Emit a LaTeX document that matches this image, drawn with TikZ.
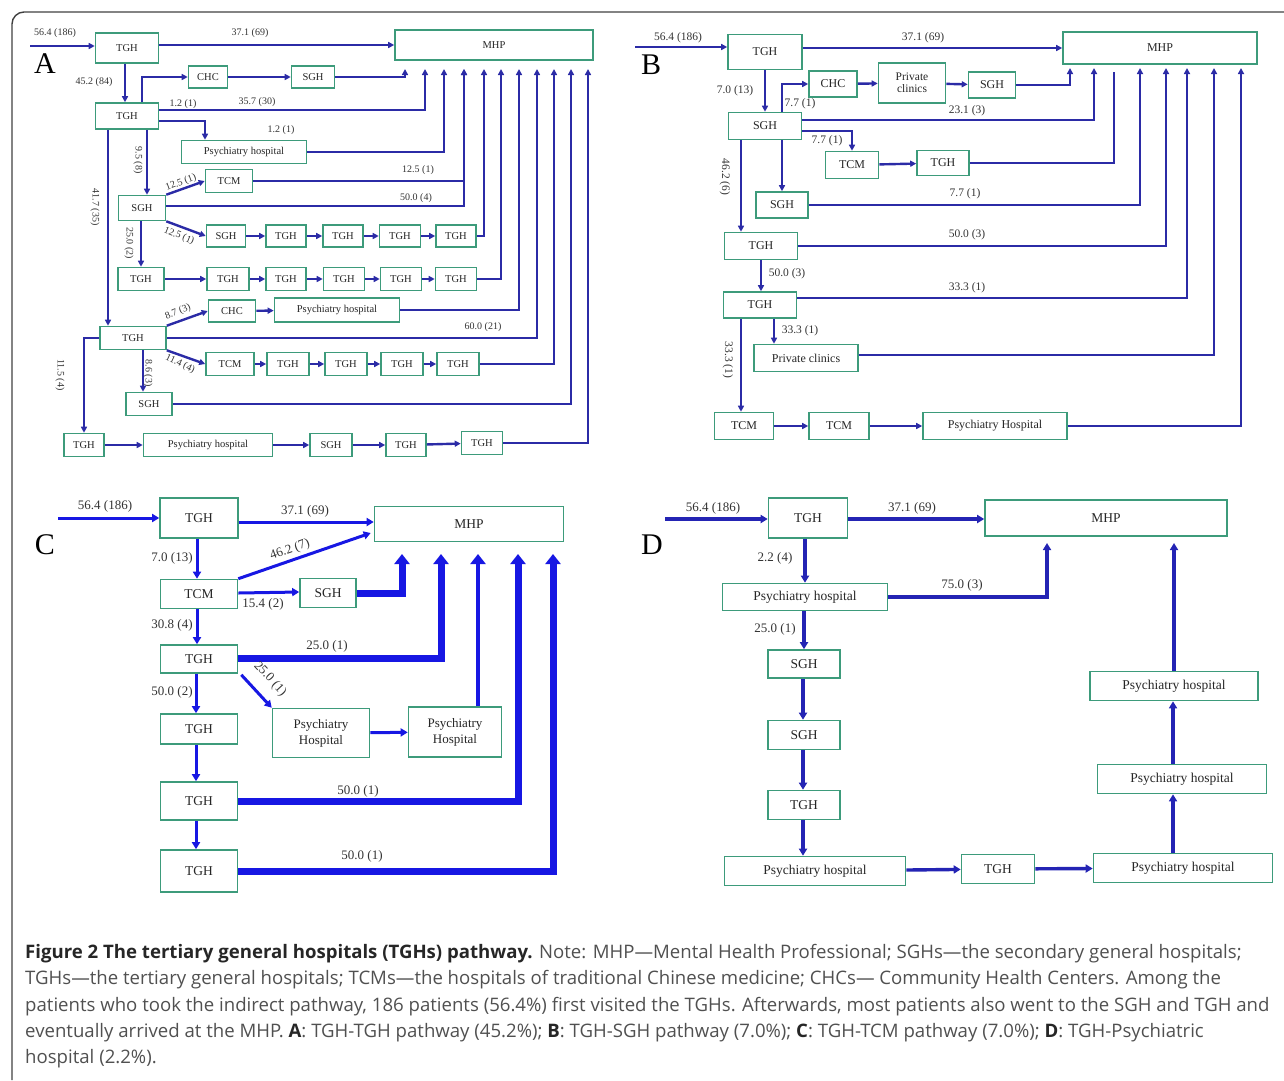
\documentclass[tikz,border=0pt]{standalone}
\usepackage{fontspec}
\setmainfont{Liberation Serif}
\newfontfamily\capfont{Open Sans}
\usepackage{xcolor}
\usetikzlibrary{arrows.meta}

\definecolor{boxgreen}{HTML}{3D9B7B}
\definecolor{lineA}{HTML}{2B2BA6}
\definecolor{lineC}{HTML}{1717E3}
\definecolor{lineD}{HTML}{2424B4}
\definecolor{capgray}{HTML}{505050}

\tikzset{
  hosp/.style={rectangle, draw=boxgreen, line width=1.6pt, fill=white, inner sep=1pt, align=center, text=black!85},
  boxA/.style={hosp, font=\fontsize{10.5}{12}\selectfont, minimum height=23pt},
  boxB/.style={hosp, font=\fontsize{12}{13}\selectfont, minimum height=26pt},
  boxC/.style={hosp, font=\fontsize{13.5}{15}\selectfont, minimum height=29pt},
  numA/.style={font=\fontsize{10}{11}\selectfont, text=black!80, inner sep=0pt},
  numB/.style={font=\fontsize{11.5}{12}\selectfont, text=black!80, inner sep=0pt},
  numC/.style={font=\fontsize{13}{14}\selectfont, text=black!80, inner sep=0pt},
  panel/.style={font=\fontsize{30}{30}\selectfont, inner sep=0pt},
  linkA/.style={draw=lineA, line width=2.4pt},
  linkC/.style={draw=lineC, line width=3pt},
  fatC/.style={draw=lineC, line width=7pt},
  linkD/.style={draw=lineD, line width=3.4pt},
  tipA/.style={-{Triangle[length=6pt,width=6pt]}},
  tipC/.style={-{Triangle[length=7pt,width=8pt]}},
  fattip/.style={-{Triangle[length=10pt,width=15pt]}},
  frame/.style={draw=black!75, line width=1.4pt}
}

\begin{document}
\begin{tikzpicture}[x=1pt, y=-1pt]
  \useasboundingbox (0,0) rectangle (1284,1080);
  \draw[frame, rounded corners=12pt] (1284,12) -| (12,1080);

  % ---------------- A: TGH-TGH
  \node[panel] (capA) at (45,64) {A};
  \coordinate (startA) at (30,46);
  \foreach \i/\x in {1/405, 2/425, 3/444, 4/464, 5/484, 6/501, 7/519, 8/537, 9/554, 10/571, 11/588}
    \coordinate (inA\i) at (\x,69);

  \node[boxA, minimum width=63pt, minimum height=30pt] (a1) at (127,48) {TGH};
  \node[boxA, minimum width=198pt, minimum height=30pt] (mhpA) at (494,45) {MHP};
  \node[boxA, minimum width=63pt, minimum height=26pt] (a2) at (127,116) {TGH};
  \node[boxA, minimum width=39pt, minimum height=22pt] (chcA) at (208,77) {CHC};
  \node[boxA, minimum width=43pt, minimum height=22pt] (sghA) at (313,77) {SGH};
  \node[boxA, minimum width=125pt] (phA1) at (244,152) {Psychiatry hospital};
  \node[boxA, minimum width=47pt, minimum height=25pt] (sA) at (142,208) {SGH};
  \node[boxA, minimum width=47pt] (tcmA1) at (229,181) {TCM};

  \node[boxA, minimum width=39pt, minimum height=22pt] (r1a) at (226,236) {SGH};
  \node[boxA, minimum width=40pt, minimum height=22pt] (r1b) at (286,236) {TGH};
  \node[boxA, minimum width=40pt, minimum height=22pt] (r1c) at (343,236) {TGH};
  \node[boxA, minimum width=41pt, minimum height=22pt] (r1d) at (400,236) {TGH};
  \node[boxA, minimum width=40pt, minimum height=22pt] (r1e) at (456,236) {TGH};

  \node[boxA, minimum width=46pt] (r2a) at (141,279) {TGH};
  \node[boxA, minimum width=42pt] (r2b) at (228,279) {TGH};
  \node[boxA, minimum width=40pt] (r2c) at (286,279) {TGH};
  \node[boxA, minimum width=41pt] (r2d) at (344,279) {TGH};
  \node[boxA, minimum width=41pt] (r2e) at (401,279) {TGH};
  \node[boxA, minimum width=41pt] (r2f) at (456,279) {TGH};

  \node[boxA, minimum width=66pt] (a3) at (133,338) {TGH};
  \node[boxA, minimum width=47pt, minimum height=22pt] (chcA2) at (232,311) {CHC};
  \node[boxA, minimum width=125pt, minimum height=24pt] (phA2) at (337,310) {Psychiatry hospital};

  \node[boxA, minimum width=48pt] (r3a) at (230,364) {TCM};
  \node[boxA, minimum width=42pt] (r3b) at (288,364) {TGH};
  \node[boxA, minimum width=42pt] (r3c) at (346,364) {TGH};
  \node[boxA, minimum width=42pt] (r3d) at (402,364) {TGH};
  \node[boxA, minimum width=42pt] (r3e) at (458,364) {TGH};

  \node[boxA, minimum width=46pt] (sA2) at (149,404) {SGH};

  \node[boxA, minimum width=40pt] (a4) at (84,445) {TGH};
  \node[boxA, minimum width=129pt] (r4b) at (208,445) {Psychiatry hospital};
  \node[boxA, minimum width=42pt] (r4c) at (331,445) {SGH};
  \node[boxA, minimum width=40pt] (r4d) at (406,445) {TGH};
  \node[boxA, minimum width=41pt] (r4e) at (482,443) {TGH};

  \path ([xshift=-19pt]a2.south) coordinate (a2l)
        ([xshift=10pt]a3.south) coordinate (a3r);

  \draw[linkA, tipA] (startA) -- (a1.west |- startA);
  \draw[linkA, tipA] (a1.east |- mhpA.west) -- (mhpA.west);
  \draw[linkA, tipA] ([xshift=-2pt]a1.south) -- ([xshift=-2pt]a2.north);
  \draw[linkA, tipA] ([xshift=15pt]a2.north) |- (chcA.west);
  \draw[linkA, tipA] (chcA) -- (sghA);
  \draw[linkA, tipA] (sghA.east) -| (inA1);
  \draw[linkA, tipA] ([yshift=6pt]a2.east) -| (inA2);
  \draw[linkA, tipA] ([yshift=-5pt]a2.east) -| ([xshift=-39pt]phA1.north);
  \draw[linkA, tipA] (phA1.east) -| (inA3);
  \draw[linkA, tipA] ([xshift=20pt]a2.south) -- ([xshift=5pt]sA.north);
  \draw[linkA, tipA] (sA.north east) -- (tcmA1.west);
  \draw[linkA, tipA] (tcmA1.east) -| (inA4);
  \draw[linkA, tipA] ([yshift=2pt]sA.east) -| (inA4);
  \draw[linkA, tipA] (sA.south east) -- (r1a.west);
  \draw[linkA, tipA] (sA.south -| r2a.north) -- (r2a.north);
  \draw[linkA, tipA] (a2l) -- (a2l |- a3.north);
  \draw[linkA, tipA] (a3.north east) -- (chcA2.west);
  \draw[linkA, tipA] (chcA2) -- (phA2);
  \draw[linkA, tipA] (phA2.east) -| (inA7);
  \draw[linkA, tipA] (a3.east) -| (inA8);
  \draw[linkA, tipA] (a3.south east) -- (r3a.west);
  \draw[linkA, tipA] (a3r) -- (a3r |- sA2.north);
  \draw[linkA, tipA] (sA2.east) -| (inA10);
  \draw[linkA, tipA] (a3.west) -| (a4.north);
  \foreach \p/\q in {r1a/r1b, r1b/r1c, r1c/r1d, r1d/r1e,
                     r2a/r2b, r2b/r2c, r2c/r2d, r2d/r2e, r2e/r2f,
                     r3a/r3b, r3b/r3c, r3c/r3d, r3d/r3e,
                     a4/r4b, r4b/r4c, r4c/r4d, r4d/r4e}
    \draw[linkA, tipA] (\p) -- (\q);
  \draw[linkA, tipA] (r1e.east) -| (inA5);
  \draw[linkA, tipA] (r2f.east) -| (inA6);
  \draw[linkA, tipA] (r3e.east) -| (inA9);
  \draw[linkA, tipA] (r4e.east) -| (inA11);

  \node[numA] (lA1) at (55,33) {56.4 (186)};
  \node[numA] (lA2) at (250,33) {37.1 (69)};
  \node[numA] (lA3) at (94,82) {45.2 (84)};
  \node[numA] (lA4) at (183,104) {1.2 (1)};
  \node[numA] (lA5) at (257,102) {35.7 (30)};
  \node[numA] (lA6) at (281,130) {1.2 (1)};
  \node[numA, rotate=-90] (lA7) at (138,160) {9.5 (8)};
  \node[numA, rotate=-90] (lA8) at (95,207) {41.7 (35)};
  \node[numA, rotate=20] (lA9) at (181,183) {12.5 (1)};
  \node[numA] (lA10) at (418,170) {12.5 (1)};
  \node[numA] (lA11) at (416,198) {50.0 (4)};
  \node[numA, rotate=-22] (lA12) at (179,236) {12.5 (1)};
  \node[numA, rotate=-90] (lA13) at (129,243) {25.0 (2)};
  \node[numA, rotate=22] (lA14) at (178,312) {8.7 (3)};
  \node[numA] (lA15) at (483,327) {60.0 (21)};
  \node[numA, rotate=-25] (lA16) at (180,364) {11.4 (4)};
  \node[numA, rotate=-90] (lA17) at (148,373) {8.6 (3)};
  \node[numA, rotate=-90] (lA18) at (60,375) {11.5 (4)};

  % ---------------- B: TGH-SGH
  \node[panel] (capB) at (651,65) {B};
  \coordinate (startB) at (635,47);
  \foreach \i/\x in {1/1070, 2/1094, 3/1114, 4/1140, 5/1166, 6/1187, 7/1214, 8/1241}
    \coordinate (inB\i) at (\x,68);

  \node[boxB, minimum width=74pt, minimum height=35pt] (b1) at (765,52) {TGH};
  \node[boxB, minimum width=194pt, minimum height=32pt] (mhpB) at (1160,48) {MHP};
  \node[boxB, minimum width=73pt, minimum height=27pt] (b2) at (765,126) {SGH};
  \node[boxB, minimum width=48pt] (chcB) at (833,84) {CHC};
  \node[boxB, minimum width=67pt, minimum height=40pt, font=\fontsize{11.5}{12}\selectfont] (pcB) at (912,83) {Private\\clinics};
  \node[boxB, minimum width=47pt] (sghB) at (992,85) {SGH};
  \node[boxB, minimum width=53pt, minimum height=27pt] (tcmB) at (852,165) {TCM};
  \node[boxB, minimum width=52pt, minimum height=25pt] (tghB) at (943,163) {TGH};
  \node[boxB, minimum width=52pt] (sB2) at (782,205) {SGH};
  \node[boxB, minimum width=73pt, minimum height=27pt] (b3) at (761,246) {TGH};
  \node[boxB, minimum width=73pt] (b4) at (760,305) {TGH};
  \node[boxB, minimum width=104pt, minimum height=27pt] (pcB2) at (806,358) {Private clinics};
  \node[boxB, minimum width=59pt, minimum height=27pt] (tcmB2) at (744,426) {TCM};
  \node[boxB, minimum width=60pt, minimum height=27pt] (tcmB3) at (839,426) {TCM};
  \node[boxB, minimum width=144pt, minimum height=27pt] (phB) at (995,426) {Psychiatry Hospital};

  \path ([xshift=17pt]b2.north) coordinate (b2n)
        ([xshift=17pt]b2.south) coordinate (b2s)
        ([xshift=-24pt]b2.south) coordinate (b2l)
        ([xshift=14pt]b4.south) coordinate (b4r)
        ([xshift=-19pt]b4.south) coordinate (b4l);

  \draw[linkA, tipA] (startB) -- (b1.west |- startB);
  \draw[linkA, tipA] (b1.east |- mhpB.west) -- (mhpB.west);
  \draw[linkA, tipA] (b1.south) -- (b2.north);
  \draw[linkA, tipA] (b2n) |- (chcB.west);
  \draw[linkA, tipA] (chcB) -- (pcB);
  \draw[linkA, tipA] (pcB) -- (sghB);
  \draw[linkA, tipA] (sghB.east) -| (inB1);
  \draw[linkA, tipA] ([yshift=6pt]b2.east) -| (inB2);
  \draw[linkA, tipA] ([yshift=-5pt]b2.east) -| (tcmB.north);
  \draw[linkA, tipA] (tcmB) -- (tghB);
  \draw[linkA] (tghB.east) -| ([yshift=-4pt]inB3);
  \draw[linkA, tipA] (b2s) -- (b2s |- sB2.north);
  \draw[linkA, tipA] (sB2.east) -| (inB4);
  \draw[linkA, tipA] (b2l) -- (b2l |- b3.north);
  \draw[linkA, tipA] (b3.east) -| (inB5);
  \draw[linkA, tipA] (b3.south) -- (b3.south |- b4.north);
  \draw[linkA, tipA] ([yshift=7pt]b4.east) -| (inB6);
  \draw[linkA, tipA] (b4r) -- (b4r |- pcB2.north);
  \draw[linkA, tipA] ([yshift=3pt]pcB2.east) -| (inB7);
  \draw[linkA, tipA] (b4l) -- (b4l |- tcmB2.north);
  \draw[linkA, tipA] (tcmB2) -- (tcmB3);
  \draw[linkA, tipA] (tcmB3) -- (phB);
  \draw[linkA, tipA] (phB.east) -| (inB8);

  \node[numB] (lB1) at (678,38) {56.4 (186)};
  \node[numB] (lB2) at (923,38) {37.1 (69)};
  \node[numB] (lB3) at (735,91) {7.0 (13)};
  \node[numB] (lB4) at (800,104) {7.7 (1)};
  \node[numB] (lB5) at (967,111) {23.1 (3)};
  \node[numB] (lB6) at (827,141) {7.7 (1)};
  \node[numB] (lB7) at (965,194) {7.7 (1)};
  \node[numB, rotate=-90] (lB8) at (725,177) {46.2 (6)};
  \node[numB] (lB9) at (967,235) {50.0 (3)};
  \node[numB] (lB10) at (787,274) {50.0 (3)};
  \node[numB] (lB11) at (967,288) {33.3 (1)};
  \node[numB] (lB12) at (800,331) {33.3 (1)};
  \node[numB, rotate=-90] (lB13) at (728,360) {33.3 (1)};

  % ---------------- C: TGH-TCM
  \node[panel] (capC) at (45,545) {C};
  \coordinate (startC) at (58,518);
  \foreach \i/\x in {1/402, 2/441, 3/478, 4/518, 5/553}
    \coordinate (inC\i) at (\x,554);

  \node[boxC, minimum width=78pt, minimum height=40pt] (c1) at (199,518) {TGH};
  \node[boxC, minimum width=189pt, minimum height=35pt] (mhpC) at (469,524) {MHP};
  \node[boxC, minimum width=77pt] (c2) at (199,594) {TCM};
  \node[boxC, minimum width=56pt] (sC) at (328,593) {SGH};
  \node[boxC, minimum width=77pt, minimum height=28pt] (c3) at (199,659) {TGH};
  \node[boxC, minimum width=97pt, minimum height=49pt, font=\fontsize{13}{16}\selectfont] (phC1) at (321,733) {Psychiatry\\Hospital};
  \node[boxC, minimum width=93pt, minimum height=50pt, font=\fontsize{13}{16}\selectfont] (phC2) at (455,732) {Psychiatry\\Hospital};
  \node[boxC, minimum width=77pt, minimum height=30pt] (c4) at (199,729) {TGH};
  \node[boxC, minimum width=77pt, minimum height=38pt] (c5) at (199,801) {TGH};
  \node[boxC, minimum width=77pt, minimum height=42pt] (c6) at (199,871) {TGH};

  \draw[linkC, tipC] (startC) -- (c1.west);
  \draw[linkC, tipC] ([yshift=-4pt]c1.east) -- ([yshift=-4pt]c1.east -| mhpC.west);
  \draw[linkC, tipC] (c2.north east) -- ([shift={(-3pt,-9pt)}]mhpC.west);
  \draw[linkC, tipC] ([xshift=-2pt]c1.south) -- ([xshift=-2pt]c2.north);
  \draw[linkC, tipC] ([yshift=1pt]c2.east) -- ([yshift=1pt]sC.west);
  \draw[fatC, fattip] (sC.east) -| (inC1);
  \draw[linkC, tipC] ([xshift=-2pt]c2.south) -- ([xshift=-2pt]c3.north);
  \draw[fatC, fattip] ([yshift=1pt]c3.east) -| (inC2);
  \draw[linkC, tipC] ([shift={(3pt,-1pt)}]c3.south east) -- (phC1.north west);
  \draw[linkC, tipC] (phC1) -- (phC2);
  \draw[draw=lineC, line width=4.5pt, fattip] ([xshift=23pt]phC2.north) -- (inC3);
  \draw[linkC, tipC] ([xshift=-3pt]c3.south) -- ([xshift=-3pt]c4.north);
  \draw[linkC, tipC] ([xshift=-3pt]c4.south) -- ([xshift=-3pt]c5.north);
  \draw[fatC, fattip] (c5.east) -| (inC4);
  \draw[linkC, tipC] ([xshift=-3pt]c5.south) -- ([xshift=-3pt]c6.north);
  \draw[fatC, fattip] (c6.east) -| (inC5);

  \node[numC] (lC1) at (105,506) {56.4 (186)};
  \node[numC] (lC2) at (305,511) {37.1 (69)};
  \node[numC, rotate=20] (lC3) at (290,550) {46.2 (7)};
  \node[numC] (lC4) at (172,558) {7.0 (13)};
  \node[numC] (lC5) at (263,604) {15.4 (2)};
  \node[numC] (lC6) at (172,625) {30.8 (4)};
  \node[numC] (lC7) at (327,646) {25.0 (1)};
  \node[numC, rotate=-47] (lC8) at (270,679) {25.0 (1)};
  \node[numC] (lC9) at (172,692) {50.0 (2)};
  \node[numC] (lC10) at (358,791) {50.0 (1)};
  \node[numC] (lC11) at (362,856) {50.0 (1)};

  % ---------------- D: TGH-Psychiatric hospital
  \node[panel] (capD) at (652,545) {D};
  \coordinate (startD) at (665,519);
  \coordinate (inD1) at (1047,543);
  \coordinate (inD2) at (1174,543);

  \node[boxC, minimum width=79pt, minimum height=40pt] (d1) at (808,518) {TGH};
  \node[boxC, minimum width=242pt, minimum height=36pt] (mhpD) at (1106,518) {MHP};
  \node[boxC, minimum width=165pt, minimum height=27pt] (d2) at (805,597) {Psychiatry hospital};
  \node[boxC, minimum width=72pt, minimum height=28pt] (d3) at (804,664) {SGH};
  \node[boxC, minimum width=72pt] (d4) at (804,735) {SGH};
  \node[boxC, minimum width=72pt] (d5) at (804,805) {TGH};
  \node[boxC, minimum width=181pt] (d6) at (815,871) {Psychiatry hospital};
  \node[boxC, minimum width=73pt] (d7) at (998,869) {TGH};
  \node[boxC, minimum width=179pt] (d8) at (1183,868) {Psychiatry hospital};
  \node[boxC, minimum width=169pt] (d9) at (1182,779) {Psychiatry hospital};
  \node[boxC, minimum width=168pt] (d10) at (1174,686) {Psychiatry hospital};

  \path ([xshift=-10pt]d8.north) coordinate (d8n)
        ([xshift=-9pt]d9.north) coordinate (d9n);

  \draw[linkD, tipC] (startD) -- (d1.west |- startD);
  \draw[linkD, tipC] (d1.east |- startD) -- (mhpD.west |- startD);
  \draw[linkD, tipC] ([xshift=-3pt]d1.south) -- ([xshift=-3pt]d1.south |- d2.north);
  \draw[linkD, tipC] (d2.east) -| (inD1);
  \draw[linkD, tipC] ([xshift=-1pt]d2.south) -- ([xshift=-1pt]d2.south |- d3.north);
  \draw[linkD, tipC] ([xshift=-1pt]d3.south) -- ([xshift=-1pt]d4.north);
  \draw[linkD, tipC] ([xshift=-1pt]d4.south) -- ([xshift=-1pt]d5.north);
  \draw[linkD, tipC] ([xshift=-1pt]d5.south) -- ([xshift=-1pt]d5.south |- d6.north);
  \draw[linkD, tipC] (d6) -- (d7);
  \draw[linkD, tipC] (d7) -- (d8);
  \draw[linkD, tipC] (d8n) -- (d8n |- d9.south);
  \draw[linkD, tipC] (d9n) -- (d9n |- d10.south);
  \draw[linkD, tipC] (d10.north) -- (inD2);

  \node[numC] (lD1) at (713,508) {56.4 (186)};
  \node[numC] (lD2) at (912,508) {37.1 (69)};
  \node[numC] (lD3) at (775,558) {2.2 (4)};
  \node[numC] (lD4) at (962,585) {75.0 (3)};
  \node[numC] (lD5) at (775,629) {25.0 (1)};

  % ---------------- caption
  \node[anchor=north west, align=left, inner sep=0pt, text=capgray,
        font=\capfont\fontsize{18.6}{26.3}\selectfont] (caption) at (25,944)
    {{\bfseries\color{black!85}Figure 2 The tertiary general hospitals (TGHs) pathway.} Note: MHP—Mental Health Professional; SGHs—the secondary general hospitals;\\
     TGHs—the tertiary general hospitals; TCMs—the hospitals of traditional Chinese medicine; CHCs— Community Health Centers. Among the\\
     patients who took the indirect pathway, 186 patients (56.4\%) first visited the TGHs. Afterwards, most patients also went to the SGH and TGH and\\
     eventually arrived at the MHP. {\bfseries\color{black!85}A}: TGH-TGH pathway (45.2\%); {\bfseries\color{black!85}B}: TGH-SGH pathway (7.0\%); {\bfseries\color{black!85}C}: TGH-TCM pathway (7.0\%); {\bfseries\color{black!85}D}: TGH-Psychiatric\\
     hospital (2.2\%).};
\end{tikzpicture}
\end{document}
